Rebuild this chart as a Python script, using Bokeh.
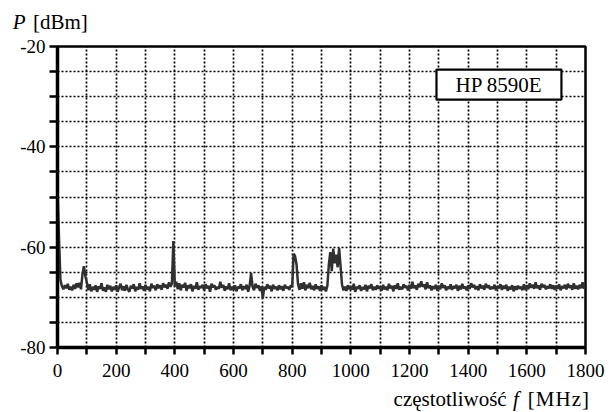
import numpy as np
from bokeh.plotting import figure
from bokeh.layouts import column
from bokeh.models import FixedTicker, BoxAnnotation, Label, Div
from bokeh.embed import file_html
from bokeh.resources import INLINE

# sweep grid 0..1800 MHz, 5 MHz step
freq_start = 0
freq_stop = 1800
freq_step = 5

power_dbm = [
    -48.5, -58.0, -66.5, -67.8, -68.4, -67.6, -68.2, -67.3, -68.5, -67.9, -68.6, -67.5, -68.3, -67.2, -68.0, -67.1, -68.4, -65.5, -63.8, -65.8,
    -67.0, -68.6, -67.4, -68.8, -67.9, -68.5, -67.6, -68.9, -67.8, -68.3, -67.2, -68.7, -68.0, -68.9, -67.5, -68.4, -67.7, -68.8, -67.9, -68.5,
    -67.6, -68.9, -68.0, -67.3, -68.6, -67.8, -68.7, -67.5, -68.4, -68.9, -67.7, -68.2, -67.4, -68.8, -67.9, -68.5, -67.2, -68.3, -67.8, -68.7,
    -67.5, -68.4, -67.9, -68.8, -67.3, -68.1, -67.7, -68.6, -67.4, -68.2, -67.6, -68.5, -67.2, -68.0, -67.5, -68.3, -67.0, -67.9, -67.3, -58.8,
    -67.8, -66.9, -68.4, -67.2, -68.6, -67.5, -68.0, -67.1, -68.7, -67.6, -68.2, -67.4, -68.8, -67.7, -68.3, -67.0, -68.5, -67.8, -68.1, -67.5,
    -68.6, -67.4, -68.2, -67.7, -68.9, -67.3, -68.0, -67.6, -68.5, -67.9, -68.3, -66.9, -68.1, -67.5, -68.7, -67.8, -68.4, -67.2, -68.6, -67.9,
    -68.5, -67.6, -68.8, -67.9, -68.2, -67.4, -68.6, -67.8, -68.3, -67.5, -68.9, -67.7, -65.2, -67.9, -68.6, -67.3, -68.1, -67.6, -68.7, -67.8,
    -70.2, -67.9, -68.5, -67.4, -68.2, -67.7, -68.8, -67.5, -68.3, -67.9, -68.6, -67.6, -68.4, -67.8, -68.7, -67.5, -68.2, -67.9, -68.5, -67.6,
    -68.0, -61.3, -61.8, -63.5, -67.4, -68.5, -67.2, -68.3, -67.0, -68.6, -67.5, -68.2, -67.1, -68.4, -67.7, -68.6, -67.4, -68.3, -67.8, -68.7,
    -67.6, -68.5, -67.9, -68.8, -67.7, -63.5, -61.0, -64.8, -60.3, -63.2, -61.5, -64.0, -60.2, -63.8, -67.5, -68.6, -67.9, -68.7, -67.6, -68.4,
    -67.8, -68.5, -67.3, -68.9, -67.9, -68.3, -67.6, -68.7, -68.0, -68.4, -67.5, -68.8, -67.7, -68.2, -67.4, -68.6, -67.9, -68.5, -67.6, -68.3,
    -67.8, -68.7, -67.5, -68.4, -67.9, -68.6, -67.3, -68.2, -67.7, -68.8, -67.6, -68.3, -67.2, -68.5, -67.9, -68.4, -67.4, -68.1, -67.7, -68.6,
    -67.5, -68.3, -66.9, -68.2, -67.6, -68.5, -67.3, -68.0, -66.8, -67.9, -67.4, -68.4, -67.0, -68.2, -67.6, -68.6, -67.8, -68.3, -67.5, -68.7,
    -67.7, -68.4, -67.2, -68.1, -67.6, -68.6, -67.9, -68.3, -67.4, -68.5, -67.8, -68.2, -67.5, -68.7, -67.7, -68.4, -67.3, -68.2, -67.9, -68.6,
    -67.6, -68.3, -67.2, -68.0, -67.5, -68.4, -67.8, -68.6, -67.4, -68.2, -67.7, -68.5, -67.3, -68.1, -67.6, -68.4, -67.9, -68.3, -67.5, -68.6,
    -67.8, -68.2, -67.4, -68.5, -67.7, -68.3, -67.5, -68.7, -67.9, -68.4, -67.6, -68.8, -67.8, -68.5, -67.7, -68.3, -67.9, -68.6, -67.4, -68.5,
    -67.6, -68.4, -67.2, -68.1, -67.5, -68.3, -67.0, -68.2, -67.6, -68.5, -67.3, -68.0, -67.5, -68.4, -67.8, -68.2, -67.4, -68.3, -67.6, -68.5,
    -67.7, -68.3, -67.4, -68.6, -67.8, -68.2, -67.5, -68.4, -67.3, -68.1, -67.6, -68.5, -67.2, -68.3, -67.7, -68.4, -67.5, -68.2, -67.0, -68.3,
    -67.6,
]

x_ticks = list(range(0, 1801, 100))
x_tick_labels = {t: (str(t) if t % 200 == 0 else "") for t in x_ticks}
y_ticks = list(range(-80, -19, 5))
y_tick_labels = {t: (str(t) if t % 20 == 0 else "") for t in y_ticks}

instrument_name = "HP 8590E"
y_title = ("P", "[dBm]")
x_title = ("częstotliwość", "f", "[MHz]")

freqs = np.arange(freq_start, freq_stop + freq_step, freq_step)

FONT = "Liberation Serif"
W = 615
TOP_H, MAIN_H, BOT_H = 35, 352, 25

SPAN = ("position:absolute;white-space:nowrap;font-family:'Liberation Serif';"
        "font-size:21px;line-height:21px;color:black;")

# --- top: y-axis title ---
top_html = (
    f'<div style="position:relative;width:{W}px;height:{TOP_H}px;">'
    f'<span style="{SPAN}left:12.7px;top:12.4px;font-style:italic;">{y_title[0]}</span>'
    f'<span style="{SPAN}left:33px;top:12.4px;">{y_title[1]}</span>'
    '</div>'
)
top = Div(text=top_html, width=W, height=TOP_H, margin=0)

# --- main plot ---
p = figure(width=W, height=MAIN_H, output_backend="svg", toolbar_location=None,
           x_range=(0, 1800), y_range=(-80, -20),
           min_border_left=57, min_border_right=30, min_border_top=11, min_border_bottom=40)

p.line(freqs, power_dbm, line_color="#303030", line_width=2.5)

for ax in (p.xaxis[0], p.yaxis[0]):
    ax.axis_line_width = 3.5
    ax.axis_line_color = "black"
    ax.major_tick_line_width = 2.5
    ax.major_tick_line_color = "black"
    ax.major_tick_out = 7
    ax.major_tick_in = 0
    ax.minor_tick_line_color = None
    ax.major_label_text_font = FONT
    ax.major_label_text_font_size = "19px"
    ax.major_label_text_color = "black"

p.xaxis.ticker = FixedTicker(ticks=x_ticks)
p.xaxis.major_label_overrides = x_tick_labels
p.xaxis.major_label_standoff = 9
p.yaxis.ticker = FixedTicker(ticks=y_ticks)
p.yaxis.major_label_overrides = y_tick_labels
p.yaxis.major_label_standoff = 4
p.yaxis.major_tick_out = 8

p.outline_line_color = "black"
p.outline_line_width = 2.5
p.outline_line_alpha = 1

for g in (p.xgrid[0], p.ygrid[0]):
    g.grid_line_color = "black"
    g.grid_line_dash = "2 2"
    g.grid_line_width = 1.7

p.background_fill_color = "white"
p.border_fill_color = "white"

box = BoxAnnotation(left=1292, right=1718, top=-24.6, bottom=-30.6,
                    fill_color="white", fill_alpha=1.0,
                    line_color="black", line_width=2.2, line_alpha=1.0)
p.add_layout(box)
p.add_layout(Label(x=1505, y=-27.6, text=instrument_name, text_align="center",
                   text_baseline="middle", text_font=FONT, text_font_size="21px",
                   text_color="black"))

# --- bottom: x-axis title ---
bot_html = (
    f'<div style="position:relative;width:{W}px;height:{BOT_H}px;">'
    f'<span style="{SPAN}right:108.3px;top:2px;">{x_title[0]}</span>'
    f'<span style="{SPAN}left:513px;top:2px;font-style:italic;">{x_title[1]}</span>'
    f'<span style="{SPAN}right:25px;top:2px;letter-spacing:1px;">{x_title[2]}</span>'
    '</div>'
)
bot = Div(text=bot_html, width=W, height=BOT_H, margin=0)

layout = column(top, p, bot, spacing=0)
open("out.html", "w").write(file_html(layout, INLINE))
